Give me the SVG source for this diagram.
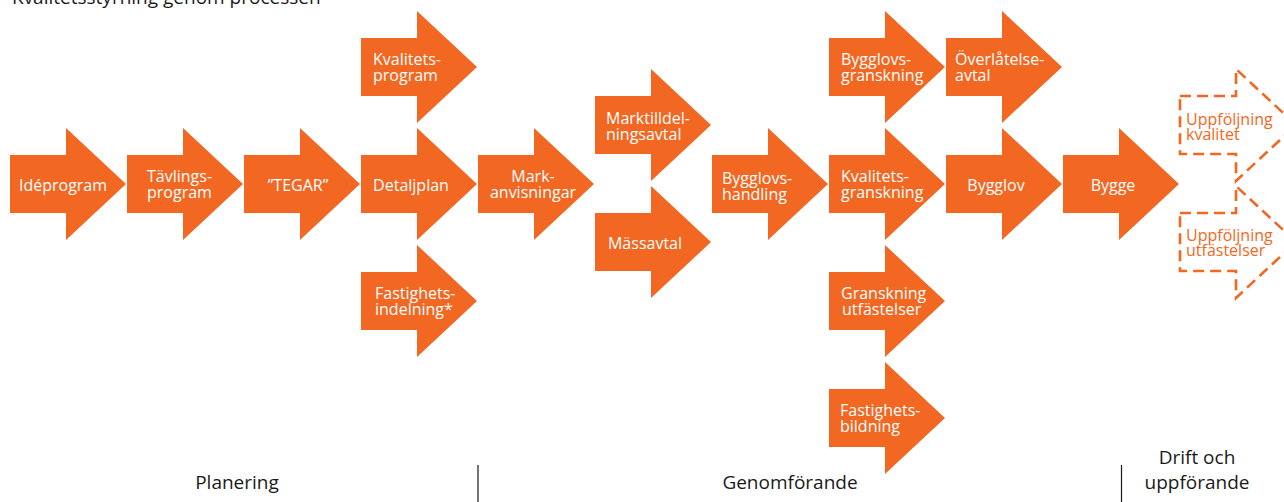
<svg xmlns="http://www.w3.org/2000/svg" xmlns:xlink="http://www.w3.org/1999/xlink" width="1284" height="502" viewBox="0 0 1284 502">
<style>
.solid{fill:#F26722;}
.dashed{fill:none;stroke:#F26722;stroke-width:2.6;stroke-dasharray:11 6;}
.lbl{font-family:"Open Sans","Noto Sans",sans-serif;font-size:16px;fill:#FFFFFF;}
.dlbl{font-family:"Open Sans","Noto Sans",sans-serif;font-size:16px;fill:#F26722;}
.mid{text-anchor:middle;}
.phase{font-family:"Open Sans","Noto Sans",sans-serif;font-size:19px;fill:#1A1A1A;text-anchor:middle;}
.title{font-family:"Open Sans","Noto Sans",sans-serif;font-size:19px;fill:#1A1A1A;}
.div{stroke:#1A1A1A;stroke-width:1.2;}
</style>
<defs>
<path id="arrow" d="M0,-29 H56 V-56 L116,0 L56,56 V29 H0 Z"/>
</defs>
<rect width="1284" height="502" fill="#FFFFFF"/>
<text class="title" x="12" y="4">Kvalitetsstyrning genom processen</text>
<g id="connectors"></g>
<g id="n-ideprogram" transform="translate(10,184)"><use href="#arrow" class="solid"/><text class="lbl mid" x="53" y="7">Idéprogram</text></g>
<g id="n-tavlingsprogram" transform="translate(127,184)"><use href="#arrow" class="solid"/><text class="lbl" x="20" y="-2">Tävlings-</text><text class="lbl" x="20" y="14">program</text></g>
<g id="n-tegar" transform="translate(244,184)"><use href="#arrow" class="solid"/><text class="lbl mid" x="54" y="7">”TEGAR”</text></g>
<g id="n-kvalitetsprogram" transform="translate(361,67)"><use href="#arrow" class="solid"/><text class="lbl" x="12" y="-2">Kvalitets-</text><text class="lbl" x="12" y="14">program</text></g>
<g id="n-detaljplan" transform="translate(361,184)"><use href="#arrow" class="solid"/><text class="lbl mid" x="50" y="7">Detaljplan</text></g>
<g id="n-fastighetsindelning" transform="translate(361,301)"><use href="#arrow" class="solid"/><text class="lbl" x="14" y="-2">Fastighets-</text><text class="lbl" x="14" y="14">indelning*</text></g>
<g id="n-markanvisningar" transform="translate(478,184)"><use href="#arrow" class="solid"/><text class="lbl mid" x="55" y="-2">Mark-</text><text class="lbl mid" x="55" y="14">anvisningar</text></g>
<g id="n-marktilldelningsavtal" transform="translate(595,125)"><use href="#arrow" class="solid"/><text class="lbl" x="11" y="-1">Marktilldel-</text><text class="lbl" x="11" y="15">ningsavtal</text></g>
<g id="n-massavtal" transform="translate(595,242)"><use href="#arrow" class="solid"/><text class="lbl mid" x="50" y="7">Mässavtal</text></g>
<g id="n-bygglovshandling" transform="translate(712,184)"><use href="#arrow" class="solid"/><text class="lbl" x="10" y="0">Bygglovs-</text><text class="lbl" x="10" y="16">handling</text></g>
<g id="n-bygglovsgranskning" transform="translate(829,67)"><use href="#arrow" class="solid"/><text class="lbl" x="12" y="-2">Bygglovs-</text><text class="lbl" x="12" y="14">granskning</text></g>
<g id="n-kvalitetsgranskning" transform="translate(829,184)"><use href="#arrow" class="solid"/><text class="lbl" x="12" y="-2">Kvalitets-</text><text class="lbl" x="12" y="14">granskning</text></g>
<g id="n-granskningutfastelser" transform="translate(829,301)"><use href="#arrow" class="solid"/><text class="lbl" x="12" y="-2">Granskning</text><text class="lbl" x="13" y="14">utfästelser</text></g>
<g id="n-fastighetsbildning" transform="translate(829,418)"><use href="#arrow" class="solid"/><text class="lbl" x="11" y="-2">Fastighets-</text><text class="lbl" x="11" y="14">bildning</text></g>
<g id="n-overlatelseavtal" transform="translate(946,67)"><use href="#arrow" class="solid"/><text class="lbl" x="9" y="-2">Överlåtelse-</text><text class="lbl" x="9" y="14">avtal</text></g>
<g id="n-bygglov" transform="translate(946,184)"><use href="#arrow" class="solid"/><text class="lbl mid" x="50" y="7">Bygglov</text></g>
<g id="n-bygge" transform="translate(1063,184)"><use href="#arrow" class="solid"/><text class="lbl mid" x="50" y="7">Bygge</text></g>
<g id="n-uppfoljningkvalitet" transform="translate(1180,125)"><use href="#arrow" class="dashed"/><text class="dlbl" x="6" y="0">Uppföljning</text><text class="dlbl" x="6" y="15">kvalitet</text></g>
<g id="n-uppfoljningutfastelser" transform="translate(1180,242)"><use href="#arrow" class="dashed"/><text class="dlbl" x="6" y="-1">Uppföljning</text><text class="dlbl" x="6" y="14">utfästelser</text></g>
<g id="phases">
<line class="div" x1="478" y1="465" x2="478" y2="502"/>
<line class="div" x1="1121.5" y1="465" x2="1121.5" y2="502"/>
<text class="phase" x="237" y="489">Planering</text>
<text class="phase" x="790" y="489">Genomförande</text>
<text class="phase" x="1197" y="464">Drift och</text>
<text class="phase" x="1197" y="489">uppförande</text>
</g>
</svg>
